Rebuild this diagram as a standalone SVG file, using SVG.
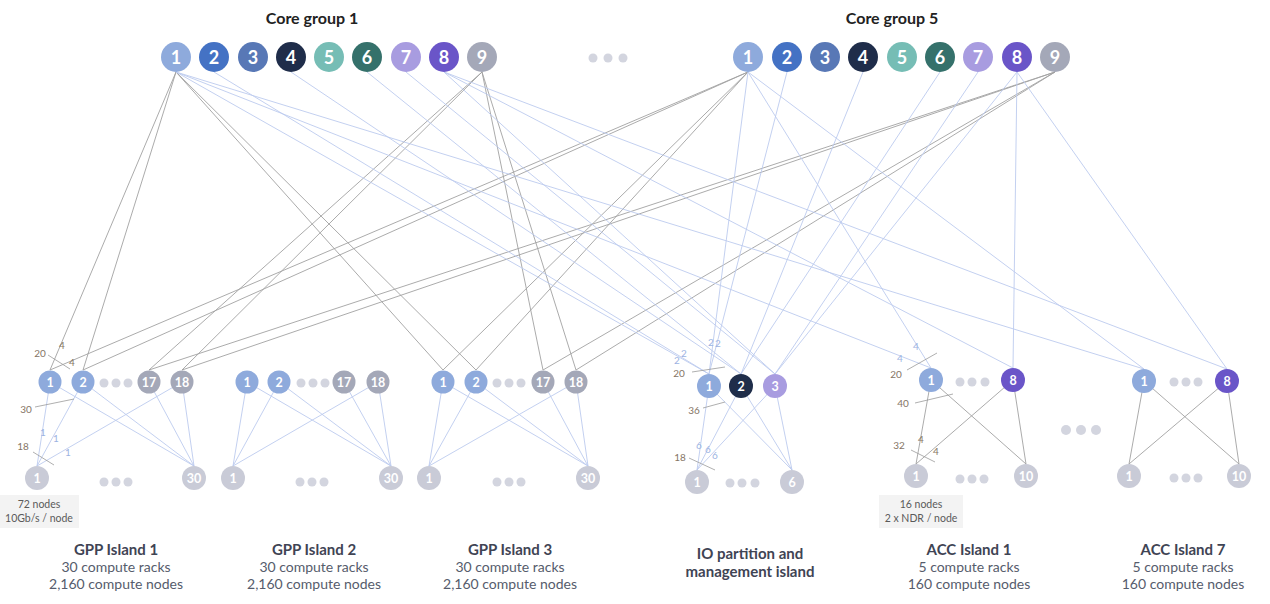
<svg xmlns="http://www.w3.org/2000/svg" width="1270" height="604" viewBox="0 0 1270 604">
<style>
.bg{fill:#fff}
.g{stroke:#a2a2a2;stroke-width:0.9;fill:none}
.b{stroke:#bccbee;stroke-width:0.9;fill:none}
.t{stroke:#9a9a9a;stroke-width:0.8}
.cn{font-family:Lato,'Open Sans',sans-serif;font-size:18px;font-weight:700;fill:#fff;text-anchor:middle}
.sn{font-family:Lato,'Open Sans',sans-serif;font-size:12.5px;font-weight:700;fill:#fff;text-anchor:middle}
.title{font-family:Lato,'Open Sans',sans-serif;font-size:16px;font-weight:700;fill:#222;text-anchor:middle}
.it{font-family:Lato,'Open Sans',sans-serif;font-size:15px;font-weight:700;fill:#3f4454;text-anchor:middle}
.id{font-family:Lato,'Open Sans',sans-serif;font-size:14px;fill:#565c6c;text-anchor:middle}
.lb{font-family:Lato,'Open Sans',sans-serif;font-size:10px;fill:#857565;text-anchor:middle}
.lbb{font-family:Lato,'Open Sans',sans-serif;font-size:10px;fill:#9cb3e2;text-anchor:middle}
.bx{fill:#f3f3f3}
.bt{font-family:Lato,'Open Sans',sans-serif;font-size:10.5px;fill:#5a5a5a;text-anchor:middle}
.dot{fill:#d3d5df}
.leaf{fill:#c9cbd7}
.c1{fill:#8eaadc}.c2{fill:#4472c4}.c3{fill:#5878b6}.c4{fill:#1f2d4a}.c5{fill:#76bdb5}.c6{fill:#35716b}.c7{fill:#a89ce0}.c8{fill:#6a55c8}.c9{fill:#a4a8b8}
</style>
<rect class="bg" x="0" y="0" width="1270" height="604"/>

<g id="connectors">
  <!-- gray core-to-GPP -->
  <line class="g" x1="176" y1="72" x2="50" y2="370"/>
  <line class="g" x1="176" y1="72" x2="83" y2="370"/>
  <line class="g" x1="176" y1="72" x2="443" y2="370"/>
  <line class="g" x1="176" y1="72" x2="476" y2="370"/>
  <line class="g" x1="482" y1="72" x2="149" y2="370"/>
  <line class="g" x1="482" y1="72" x2="182" y2="370"/>
  <line class="g" x1="482" y1="72" x2="543" y2="370"/>
  <line class="g" x1="482" y1="72" x2="576" y2="370"/>
  <line class="g" x1="748" y1="72" x2="50" y2="370"/>
  <line class="g" x1="748" y1="72" x2="83" y2="370"/>
  <line class="g" x1="748" y1="72" x2="443" y2="370"/>
  <line class="g" x1="748" y1="72" x2="476" y2="370"/>
  <line class="g" x1="1055" y1="72" x2="149" y2="370"/>
  <line class="g" x1="1055" y1="72" x2="182" y2="370"/>
  <line class="g" x1="1055" y1="72" x2="543" y2="370"/>
  <line class="g" x1="1055" y1="72" x2="576" y2="370"/>
  <!-- blue core to IO / ACC -->
  <line class="b" x1="176" y1="72" x2="709" y2="374"/>
  <line class="b" x1="176" y1="72" x2="931" y2="368"/>
  <line class="b" x1="176" y1="72" x2="1144" y2="369"/>
  <line class="b" x1="214" y1="72" x2="709" y2="374"/>
  <line class="b" x1="291" y1="72" x2="741" y2="374"/>
  <line class="b" x1="367" y1="72" x2="741" y2="374"/>
  <line class="b" x1="406" y1="72" x2="775" y2="374"/>
  <line class="b" x1="444" y1="72" x2="775" y2="374"/>
  <line class="b" x1="444" y1="72" x2="1013" y2="368"/>
  <line class="b" x1="444" y1="72" x2="1227" y2="369"/>
  <line class="b" x1="748" y1="72" x2="709" y2="374"/>
  <line class="b" x1="748" y1="72" x2="931" y2="368"/>
  <line class="b" x1="748" y1="72" x2="1144" y2="369"/>
  <line class="b" x1="787" y1="72" x2="709" y2="374"/>
  <line class="b" x1="863" y1="72" x2="741" y2="374"/>
  <line class="b" x1="940" y1="72" x2="741" y2="374"/>
  <line class="b" x1="978" y1="72" x2="775" y2="374"/>
  <line class="b" x1="1017" y1="72" x2="775" y2="374"/>
  <line class="b" x1="1017" y1="72" x2="1013" y2="368"/>
  <line class="b" x1="1017" y1="72" x2="1227" y2="369"/>
  <!-- GPP island internal -->
  <line class="b" x1="50" y1="382" x2="37" y2="466"/>
  <line class="b" x1="50" y1="382" x2="194" y2="466"/>
  <line class="b" x1="83" y1="382" x2="37" y2="466"/>
  <line class="b" x1="83" y1="382" x2="194" y2="466"/>
  <line class="b" x1="149" y1="382" x2="194" y2="466"/>
  <line class="b" x1="182" y1="382" x2="37" y2="466"/>
  <line class="b" x1="182" y1="382" x2="194" y2="466"/>

  <line class="b" x1="247" y1="382" x2="233" y2="466"/>
  <line class="b" x1="247" y1="382" x2="391" y2="466"/>
  <line class="b" x1="279" y1="382" x2="233" y2="466"/>
  <line class="b" x1="279" y1="382" x2="391" y2="466"/>
  <line class="b" x1="344" y1="382" x2="391" y2="466"/>
  <line class="b" x1="378" y1="382" x2="233" y2="466"/>
  <line class="b" x1="378" y1="382" x2="391" y2="466"/>

  <line class="b" x1="443" y1="382" x2="429" y2="466"/>
  <line class="b" x1="443" y1="382" x2="588" y2="466"/>
  <line class="b" x1="476" y1="382" x2="429" y2="466"/>
  <line class="b" x1="476" y1="382" x2="588" y2="466"/>
  <line class="b" x1="543" y1="382" x2="588" y2="466"/>
  <line class="b" x1="576" y1="382" x2="429" y2="466"/>
  <line class="b" x1="576" y1="382" x2="588" y2="466"/>
  <!-- IO internal -->
  <line class="b" x1="709" y1="386" x2="697" y2="470"/>
  <line class="b" x1="709" y1="386" x2="792" y2="470"/>
  <line class="b" x1="741" y1="386" x2="697" y2="470"/>
  <line class="b" x1="741" y1="386" x2="792" y2="470"/>
  <line class="b" x1="775" y1="386" x2="697" y2="470"/>
  <line class="b" x1="775" y1="386" x2="792" y2="470"/>
  <!-- ACC internal -->
  <line class="g" x1="931" y1="380" x2="916" y2="464"/>
  <line class="g" x1="931" y1="380" x2="1026" y2="464"/>
  <line class="g" x1="1013" y1="380" x2="916" y2="464"/>
  <line class="g" x1="1013" y1="380" x2="1026" y2="464"/>
  <line class="g" x1="1144" y1="381" x2="1129" y2="464"/>
  <line class="g" x1="1144" y1="381" x2="1239" y2="464"/>
  <line class="g" x1="1227" y1="381" x2="1129" y2="464"/>
  <line class="g" x1="1227" y1="381" x2="1239" y2="464"/>
  <!-- tick marks -->
  <line class="t" x1="48" y1="355" x2="70" y2="369"/>
  <line class="t" x1="35" y1="407" x2="74" y2="399"/>
  <line class="t" x1="33" y1="452" x2="54" y2="465"/>
  <line class="t" x1="692" y1="372" x2="725" y2="367"/>
  <line class="t" x1="703" y1="408" x2="725" y2="402"/>
  <line class="t" x1="689" y1="458" x2="715" y2="470"/>
  <line class="t" x1="907" y1="370" x2="937" y2="353"/>
  <line class="t" x1="915" y1="403" x2="953" y2="394"/>
  <line class="t" x1="911" y1="450" x2="935" y2="462"/>
</g>

<g id="labels">
  <text class="lb" x="62" y="348.5">4</text>
  <text class="lb" x="40" y="356.5">20</text>
  <text class="lb" x="72" y="365.5">4</text>
  <text class="lb" x="26" y="412.5">30</text>
  <text class="lbb" x="43" y="435.5">1</text>
  <text class="lbb" x="56" y="441.5">1</text>
  <text class="lbb" x="68" y="455.5">1</text>
  <text class="lb" x="23" y="449.5">18</text>

  <text class="lbb" x="711" y="345.5">2</text>
  <text class="lbb" x="718" y="346.5">2</text>
  <text class="lbb" x="684" y="356.5">2</text>
  <text class="lbb" x="677" y="363.5">2</text>
  <text class="lb" x="679" y="376.5">20</text>
  <text class="lb" x="694" y="413.5">36</text>
  <text class="lbb" x="699" y="448.5">6</text>
  <text class="lbb" x="708" y="452.5">6</text>
  <text class="lbb" x="715" y="458.5">6</text>
  <text class="lb" x="680" y="460.5">18</text>

  <text class="lbb" x="916" y="349.5">4</text>
  <text class="lbb" x="900" y="361.5">4</text>
  <text class="lb" x="896" y="377.5">20</text>
  <text class="lb" x="903" y="406.5">40</text>
  <text class="lb" x="921" y="442.5">4</text>
  <text class="lb" x="936" y="454.5">4</text>
  <text class="lb" x="899" y="448.5">32</text>
</g>

<g id="core-group-1">
  <text class="title" x="312" y="24">Core group 1</text>
  <circle class="c1" cx="176" cy="57" r="15"/><text class="cn" x="176" y="63.5">1</text>
  <circle class="c2" cx="214" cy="57" r="15"/><text class="cn" x="214" y="63.5">2</text>
  <circle class="c3" cx="253" cy="57" r="15"/><text class="cn" x="253" y="63.5">3</text>
  <circle class="c4" cx="291" cy="57" r="15"/><text class="cn" x="291" y="63.5">4</text>
  <circle class="c5" cx="329" cy="57" r="15"/><text class="cn" x="329" y="63.5">5</text>
  <circle class="c6" cx="367" cy="57" r="15"/><text class="cn" x="367" y="63.5">6</text>
  <circle class="c7" cx="406" cy="57" r="15"/><text class="cn" x="406" y="63.5">7</text>
  <circle class="c8" cx="444" cy="57" r="15"/><text class="cn" x="444" y="63.5">8</text>
  <circle class="c9" cx="482" cy="57" r="15"/><text class="cn" x="482" y="63.5">9</text>
</g>
<g id="core-dots">
  <circle class="dot" cx="593" cy="58" r="4.5"/><circle class="dot" cx="608" cy="58" r="4.5"/><circle class="dot" cx="623" cy="58" r="4.5"/>
</g>
<g id="core-group-5">
  <text class="title" x="892" y="24">Core group 5</text>
  <circle class="c1" cx="748" cy="57" r="15"/><text class="cn" x="748" y="63.5">1</text>
  <circle class="c2" cx="787" cy="57" r="15"/><text class="cn" x="787" y="63.5">2</text>
  <circle class="c3" cx="825" cy="57" r="15"/><text class="cn" x="825" y="63.5">3</text>
  <circle class="c4" cx="863" cy="57" r="15"/><text class="cn" x="863" y="63.5">4</text>
  <circle class="c5" cx="902" cy="57" r="15"/><text class="cn" x="902" y="63.5">5</text>
  <circle class="c6" cx="940" cy="57" r="15"/><text class="cn" x="940" y="63.5">6</text>
  <circle class="c7" cx="978" cy="57" r="15"/><text class="cn" x="978" y="63.5">7</text>
  <circle class="c8" cx="1017" cy="57" r="15"/><text class="cn" x="1017" y="63.5">8</text>
  <circle class="c9" cx="1055" cy="57" r="15"/><text class="cn" x="1055" y="63.5">9</text>
</g>

<g id="gpp-island-1">
  <circle class="c1" cx="50" cy="382" r="11.5"/><text class="sn" x="50" y="386.5">1</text>
  <circle class="c1" cx="83" cy="382" r="11.5"/><text class="sn" x="83" y="386.5">2</text>
  <circle class="dot" cx="104" cy="383" r="4.5"/><circle class="dot" cx="116" cy="383" r="4.5"/><circle class="dot" cx="128" cy="383" r="4.5"/>
  <circle class="c9" cx="149" cy="382" r="11.5"/><text class="sn" x="149" y="386.5">17</text>
  <circle class="c9" cx="182" cy="382" r="11.5"/><text class="sn" x="182" y="386.5">18</text>
  <circle class="leaf" cx="37" cy="478" r="12"/><text class="sn" x="37" y="482.5">1</text>
  <circle class="dot" cx="104" cy="482" r="4.5"/><circle class="dot" cx="116" cy="482" r="4.5"/><circle class="dot" cx="128" cy="482" r="4.5"/>
  <circle class="leaf" cx="194" cy="478" r="12"/><text class="sn" x="194" y="482.5">30</text>
  <rect class="bx" x="0" y="495" width="79" height="33"/>
  <text class="bt" x="39" y="508">72 nodes</text>
  <text class="bt" x="39" y="522">10Gb/s / node</text>
  <text class="it" x="116" y="555">GPP Island 1</text>
  <text class="id" x="116" y="572">30 compute racks</text>
  <text class="id" x="116" y="589">2,160 compute nodes</text>
</g>

<g id="gpp-island-2">
  <circle class="c1" cx="247" cy="382" r="11.5"/><text class="sn" x="247" y="386.5">1</text>
  <circle class="c1" cx="279" cy="382" r="11.5"/><text class="sn" x="279" y="386.5">2</text>
  <circle class="dot" cx="301" cy="383" r="4.5"/><circle class="dot" cx="313" cy="383" r="4.5"/><circle class="dot" cx="325" cy="383" r="4.5"/>
  <circle class="c9" cx="344" cy="382" r="11.5"/><text class="sn" x="344" y="386.5">17</text>
  <circle class="c9" cx="378" cy="382" r="11.5"/><text class="sn" x="378" y="386.5">18</text>
  <circle class="leaf" cx="233" cy="478" r="12"/><text class="sn" x="233" y="482.5">1</text>
  <circle class="dot" cx="300" cy="482" r="4.5"/><circle class="dot" cx="312" cy="482" r="4.5"/><circle class="dot" cx="324" cy="482" r="4.5"/>
  <circle class="leaf" cx="391" cy="478" r="12"/><text class="sn" x="391" y="482.5">30</text>
  <text class="it" x="314" y="555">GPP Island 2</text>
  <text class="id" x="314" y="572">30 compute racks</text>
  <text class="id" x="314" y="589">2,160 compute nodes</text>
</g>

<g id="gpp-island-3">
  <circle class="c1" cx="443" cy="382" r="11.5"/><text class="sn" x="443" y="386.5">1</text>
  <circle class="c1" cx="476" cy="382" r="11.5"/><text class="sn" x="476" y="386.5">2</text>
  <circle class="dot" cx="497" cy="383" r="4.5"/><circle class="dot" cx="509" cy="383" r="4.5"/><circle class="dot" cx="521" cy="383" r="4.5"/>
  <circle class="c9" cx="543" cy="382" r="11.5"/><text class="sn" x="543" y="386.5">17</text>
  <circle class="c9" cx="576" cy="382" r="11.5"/><text class="sn" x="576" y="386.5">18</text>
  <circle class="leaf" cx="429" cy="478" r="12"/><text class="sn" x="429" y="482.5">1</text>
  <circle class="dot" cx="497" cy="482" r="4.5"/><circle class="dot" cx="509" cy="482" r="4.5"/><circle class="dot" cx="521" cy="482" r="4.5"/>
  <circle class="leaf" cx="588" cy="478" r="12"/><text class="sn" x="588" y="482.5">30</text>
  <text class="it" x="510" y="555">GPP Island 3</text>
  <text class="id" x="510" y="572">30 compute racks</text>
  <text class="id" x="510" y="589">2,160 compute nodes</text>
</g>

<g id="io-island">
  <circle class="c1" cx="709" cy="386" r="12"/><text class="sn" x="709" y="390.5">1</text>
  <circle class="c4" cx="741" cy="386" r="12"/><text class="sn" x="741" y="390.5">2</text>
  <circle class="c7" cx="775" cy="386" r="12"/><text class="sn" x="775" y="390.5">3</text>
  <circle class="leaf" cx="697" cy="482" r="12"/><text class="sn" x="697" y="486.5">1</text>
  <circle class="dot" cx="730" cy="483" r="4.5"/><circle class="dot" cx="742" cy="483" r="4.5"/><circle class="dot" cx="755" cy="483" r="4.5"/>
  <circle class="leaf" cx="792" cy="482" r="12"/><text class="sn" x="792" y="486.5">6</text>
  <text class="it" x="750" y="559">IO partition and</text>
  <text class="it" x="750" y="577">management island</text>
</g>

<g id="acc-island-1">
  <circle class="c1" cx="931" cy="380" r="12"/><text class="sn" x="931" y="384.5">1</text>
  <circle class="dot" cx="960" cy="382" r="4.5"/><circle class="dot" cx="972" cy="382" r="4.5"/><circle class="dot" cx="985" cy="382" r="4.5"/>
  <circle class="c8" cx="1013" cy="380" r="12"/><text class="sn" x="1013" y="384.5">8</text>
  <circle class="leaf" cx="916" cy="476" r="12"/><text class="sn" x="916" y="480.5">1</text>
  <circle class="dot" cx="960" cy="479" r="4.5"/><circle class="dot" cx="972" cy="479" r="4.5"/><circle class="dot" cx="984" cy="479" r="4.5"/>
  <circle class="leaf" cx="1026" cy="476" r="12"/><text class="sn" x="1026" y="480.5">10</text>
  <rect class="bx" x="879" y="495" width="84" height="33"/>
  <text class="bt" x="921" y="508">16 nodes</text>
  <text class="bt" x="921" y="522">2 x NDR / node</text>
  <text class="it" x="969" y="555">ACC Island 1</text>
  <text class="id" x="969" y="572">5 compute racks</text>
  <text class="id" x="969" y="589">160 compute nodes</text>
</g>

<g id="acc-dots">
  <circle class="dot" cx="1066" cy="430" r="5"/><circle class="dot" cx="1081" cy="430" r="5"/><circle class="dot" cx="1096" cy="430" r="5"/>
</g>

<g id="acc-island-7">
  <circle class="c1" cx="1144" cy="381" r="12"/><text class="sn" x="1144" y="385.5">1</text>
  <circle class="dot" cx="1174" cy="382" r="4.5"/><circle class="dot" cx="1186" cy="382" r="4.5"/><circle class="dot" cx="1198" cy="382" r="4.5"/>
  <circle class="c8" cx="1227" cy="381" r="12"/><text class="sn" x="1227" y="385.5">8</text>
  <circle class="leaf" cx="1129" cy="476" r="12"/><text class="sn" x="1129" y="480.5">1</text>
  <circle class="dot" cx="1174" cy="478" r="4.5"/><circle class="dot" cx="1186" cy="478" r="4.5"/><circle class="dot" cx="1198" cy="478" r="4.5"/>
  <circle class="leaf" cx="1239" cy="476" r="12"/><text class="sn" x="1239" y="480.5">10</text>
  <text class="it" x="1183" y="555">ACC Island 7</text>
  <text class="id" x="1183" y="572">5 compute racks</text>
  <text class="id" x="1183" y="589">160 compute nodes</text>
</g>
</svg>
